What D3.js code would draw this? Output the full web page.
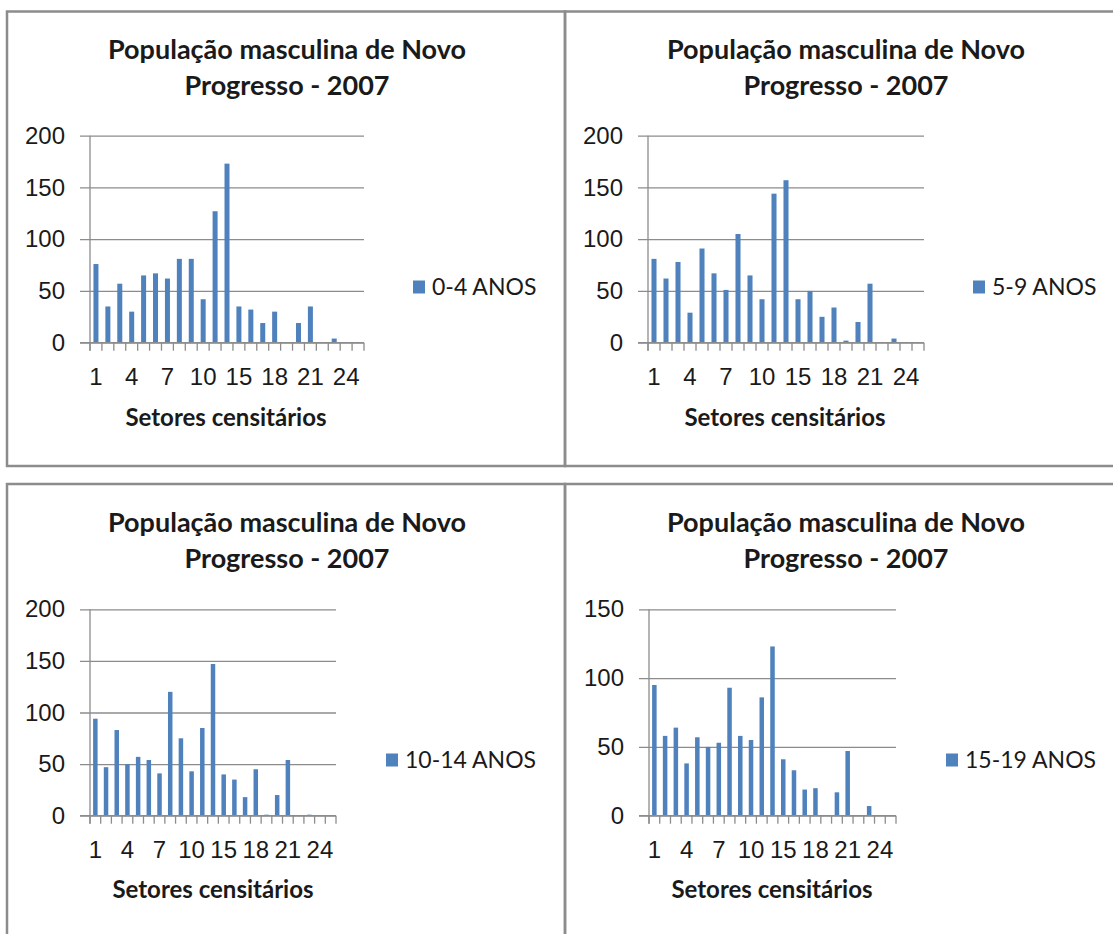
<!DOCTYPE html>
<html lang="pt">
<head>
<meta charset="UTF-8" />
<title>População masculina de Novo Progresso - 2007</title>
<script src="https://d3js.org/d3.v7.min.js"></script>
<style>
  body { margin: 0; background: #fff; }
  svg { display: block; font-family: Lato, "Open Sans", sans-serif; }
</style>
</head>
<body>
<svg id="chart" width="1113" height="934"></svg>
<script>
// setores censitários (23 categorias; só cada 3ª aparece no eixo)
const sectors = ["1","2","3","4","5","6","7","8","9","10","11","12",
                 "15","16","17","18","19","20","21","22","23","24","25"];
const tickLabels = ["1","4","7","10","15","18","21","24"];

const ages0_4   = [76,35,57,30,65,67,62,81,81,42,127,173,35,32,19,30,0,19,35,0,4,0,0];
const ages5_9   = [81,62,78,29,91,67,51,105,65,42,144,157,42,50,25,34,2,20,57,0,4,0,0];
const ages10_14 = [94,47,83,50,57,54,41,120,75,43,85,147,40,35,18,45,1,20,54,0,1,0,0];
const ages15_19 = [95,58,64,38,57,50,53,93,58,55,86,123,41,33,19,20,0,17,47,0,7,0,0];

const seriesNames = ["0-4 ANOS", "5-9 ANOS", "10-14 ANOS", "15-19 ANOS"];
const yTicksBig   = [0, 50, 100, 150, 200];
const yTicksSmall = [0, 50, 100, 150];

const BLUE = "#4f81bd";
const GRID = "#8c8c8c";

const svg = d3.select("#chart");

// panel frames
const frames = [
  {x: 7,   y: 11.5, w: 558, h: 454.5},
  {x: 565, y: 11.5, w: 560, h: 454.5},
  {x: 7,   y: 484,  w: 558, h: 460},
  {x: 565, y: 484,  w: 560, h: 460}
];

const panels = [
  {data: ages0_4,   name: seriesNames[0], ticks: yTicksBig,   left: 90,  right: 364, top: 135.7, bottom: 342.7,
   titleX: 287, titleY: 50,  legX: 413, legY: 287, xlabX: 226, xlabY: 418},
  {data: ages5_9,   name: seriesNames[1], ticks: yTicksBig,   left: 648, right: 924, top: 135.7, bottom: 342.7,
   titleX: 846, titleY: 50,  legX: 973, legY: 287, xlabX: 785, xlabY: 418},
  {data: ages10_14, name: seriesNames[2], ticks: yTicksBig,   left: 90,  right: 336, top: 609.3, bottom: 815.7,
   titleX: 287, titleY: 523, legX: 386, legY: 760, xlabX: 213, xlabY: 890},
  {data: ages15_19, name: seriesNames[3], ticks: yTicksSmall, left: 649, right: 896, top: 609.3, bottom: 815.7,
   titleX: 846, titleY: 523, legX: 946, legY: 760, xlabX: 772, xlabY: 890}
];

panels.forEach(drawPanel);

frames.forEach(f => {
  svg.append("rect")
    .attr("x", f.x).attr("y", f.y)
    .attr("width", f.w).attr("height", f.h)
    .attr("fill", "none")
    .attr("stroke", GRID)
    .attr("stroke-width", 2.5);
});

function drawPanel(p) {
  const g = svg.append("g");

  const x = d3.scaleBand()
    .domain(sectors)
    .range([p.left, p.right])
    .paddingInner(0.58)
    .paddingOuter(0.29);

  const y = d3.scaleLinear()
    .domain([0, d3.max(p.ticks)])
    .range([p.bottom, p.top]);

  // gridlines + y labels
  const yAxis = d3.axisLeft(y)
    .tickValues(p.ticks)
    .tickSize(0)
    .tickFormat(d3.format("d"));

  const ya = g.append("g")
    .attr("transform", `translate(${p.left - 10},0)`)
    .call(yAxis);
  ya.select(".domain").remove();
  ya.selectAll(".tick line")
    .attr("x1", 0)
    .attr("x2", p.right - p.left + 10)
    .attr("stroke", GRID).attr("stroke-width", 1.3);
  ya.selectAll(".tick text")
    .attr("font-size", "24px")
    .attr("fill", "#1a1a1a")
    .attr("x", -15);

  // vertical axis line
  g.append("line")
    .attr("x1", p.left).attr("x2", p.left)
    .attr("y1", p.top).attr("y2", p.bottom + 8)
    .attr("stroke", GRID).attr("stroke-width", 1.3);

  // category boundary ticks
  const step = (p.right - p.left) / sectors.length;
  g.selectAll(".ctick")
    .data(d3.range(sectors.length + 1))
    .enter().append("line")
      .attr("x1", i => p.left + i * step)
      .attr("x2", i => p.left + i * step)
      .attr("y1", p.bottom)
      .attr("y2", p.bottom + 8)
      .attr("stroke", GRID).attr("stroke-width", 1.3);

  // x labels (only every third category)
  const xAxis = d3.axisBottom(x)
    .tickValues(tickLabels)
    .tickSize(0)
    .tickPadding(25);
  const xa = g.append("g")
    .attr("transform", `translate(0,${p.bottom})`)
    .call(xAxis);
  xa.select(".domain").remove();
  xa.selectAll(".tick text")
    .attr("font-size", "24px")
    .attr("fill", "#1a1a1a");

  // bars
  g.selectAll(".bar")
    .data(p.data.map((v, i) => ({sector: sectors[i], value: v})))
    .enter().append("rect")
      .attr("x", d => x(d.sector))
      .attr("width", x.bandwidth())
      .attr("y", d => y(d.value))
      .attr("height", d => y(0) - y(d.value))
      .attr("fill", BLUE);

  // baseline
  g.append("line")
    .attr("x1", p.left - 10).attr("x2", p.right)
    .attr("y1", p.bottom).attr("y2", p.bottom)
    .attr("stroke", GRID).attr("stroke-width", 1.3);

  // title
  const title = g.append("text")
    .attr("text-anchor", "middle")
    .attr("font-size", "27px")
    .attr("font-weight", "bold")
    .attr("fill", "#1a1a1a");
  title.append("tspan").attr("x", p.titleX).attr("y", p.titleY).attr("dy", "0.35em")
    .text("População masculina de Novo");
  title.append("tspan").attr("x", p.titleX).attr("y", p.titleY + 36).attr("dy", "0.35em")
    .text("Progresso - 2007");

  // x axis title
  g.append("text")
    .attr("x", p.xlabX).attr("y", p.xlabY)
    .attr("dy", "0.35em")
    .attr("text-anchor", "middle")
    .attr("font-size", "24px")
    .attr("font-weight", "bold")
    .attr("fill", "#1a1a1a")
    .text("Setores censitários");

  // legend
  g.append("rect")
    .attr("x", p.legX).attr("y", p.legY - 6.5)
    .attr("width", 12).attr("height", 13)
    .attr("fill", BLUE);
  g.append("text")
    .attr("x", p.legX + 19).attr("y", p.legY)
    .attr("dy", "0.35em")
    .attr("font-size", "23px")
    .attr("fill", "#1a1a1a")
    .text(p.name);
}
</script>
</body>
</html>
